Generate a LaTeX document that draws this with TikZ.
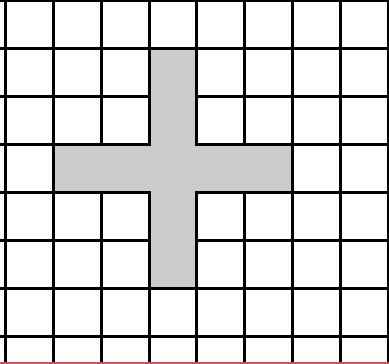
\documentclass[tikz,border=0pt]{standalone}
\begin{document}
\begin{tikzpicture}[
  gridline/.style={line width=0.0625cm, black},
  crossfill/.style={fill=gray!40, draw=black, line width=0.0625cm, line join=miter},
  baseline/.style={line width=0.05cm, draw={rgb,255:red,232;green,72;blue,85}}
]
\useasboundingbox (-0.1042,-7.5625) rectangle (8.0,0.0208);
\clip (-0.1042,-7.5625) rectangle (8.0,0.0208);
\fill[white] (-0.1042,-7.5625) rectangle (8.0,0.0208);
\draw[gridline] (-0.5,-8.5) grid[step=1] (8.5,0.5);
\draw[crossfill] (3,-1) -- (4,-1) -- (4,-3) -- (6,-3) -- (6,-4) -- (4,-4) -- (4,-6)
  -- (3,-6) -- (3,-4) -- (1,-4) -- (1,-3) -- (3,-3) -- cycle;
\draw[baseline] (-0.2,-7.54) -- (8.2,-7.54);
\end{tikzpicture}
\end{document}
